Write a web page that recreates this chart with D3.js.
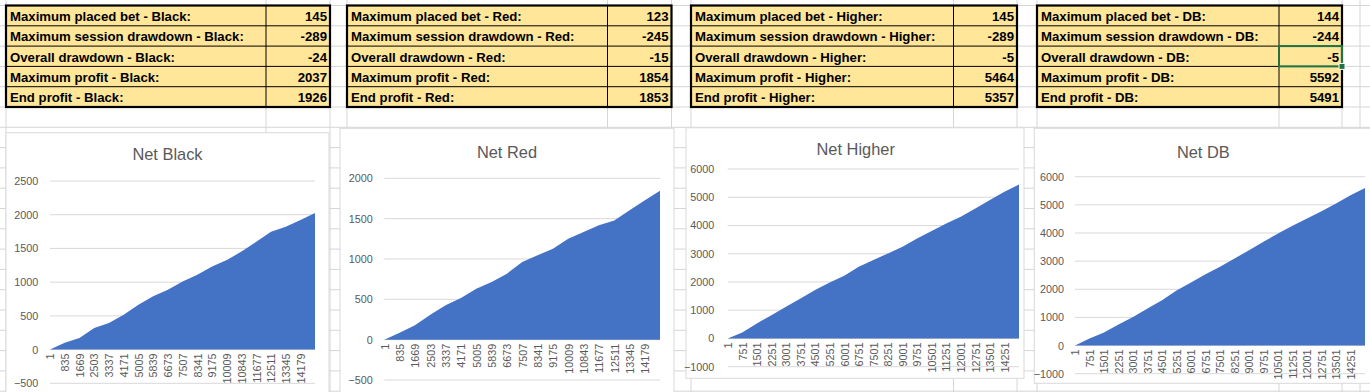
<!DOCTYPE html>
<html><head><meta charset="utf-8">
<script src="https://cdn.jsdelivr.net/npm/d3@7"></script>
<style>
html,body{margin:0;padding:0;background:#fff;overflow:hidden;}
svg{display:block;}
</style></head>
<body>
<svg id="c" width="1370" height="392"></svg>
<script>
// ---------- DATA ----------
const statNames = ["Maximum placed bet", "Maximum session drawdown", "Overall drawdown", "Maximum profit", "End profit"];
const seriesNames = ["Black", "Red", "Higher", "DB"];
const statsBlack = [145, -289, -24, 2037, 1926];
const statsRed = [123, -245, -15, 1854, 1853];
const statsHigher = [145, -289, -5, 5464, 5357];
const statsDB = [144, -244, -5, 5592, 5491];

// x positions (bet index) at which the net values were read
const idxBlackRed = [1, 835, 1669, 2503, 3337, 4171, 5005, 5839, 6673, 7507, 8341, 9175, 10009, 10843, 11677, 12511, 13345, 14179, 15000];
const netBlack = [0, 100, 170, 320, 395, 517, 665, 790, 887, 1010, 1108, 1232, 1330, 1453, 1600, 1749, 1823, 1921, 2025];
const netRed = [0, 87, 178, 310, 426, 517, 632, 715, 818, 963, 1045, 1128, 1252, 1335, 1417, 1478, 1603, 1727, 1845];
const idxHigherDB = [1, 751, 1501, 2251, 3001, 3751, 4501, 5251, 6001, 6751, 7501, 8251, 9001, 9751, 10501, 11251, 12001, 12751, 13501, 14251, 15000];
const netHigher = [0, 212, 531, 826, 1121, 1417, 1712, 1983, 2220, 2538, 2775, 3011, 3247, 3542, 3802, 4073, 4309, 4604, 4900, 5195, 5454];
const netDB = [0, 250, 462, 746, 1019, 1315, 1611, 1955, 2239, 2535, 2796, 3092, 3389, 3685, 3981, 4254, 4514, 4775, 5047, 5344, 5600];

// axis tick labels
const xTicksBlackRed = [1, 835, 1669, 2503, 3337, 4171, 5005, 5839, 6673, 7507, 8341, 9175, 10009, 10843, 11677, 12511, 13345, 14179];
const xTicksHigherDB = [1, 751, 1501, 2251, 3001, 3751, 4501, 5251, 6001, 6751, 7501, 8251, 9001, 9751, 10501, 11251, 12001, 12751, 13501, 14251];
const yTicksBlack = [-500, 0, 500, 1000, 1500, 2000, 2500];
const yTicksRed = [-500, 0, 500, 1000, 1500, 2000];
const yTicksHigherDB = [-1000, 0, 1000, 2000, 3000, 4000, 5000, 6000];
const N = 15000;

// ---------- LAYOUT ----------
const svg = d3.select("#c");
const FONT = "'Liberation Sans', Arial, sans-serif";
const gridColor = "#d6d6d6";

// spreadsheet gridlines
const colXs = [6, 266, 330, 347, 607.5, 671.5, 691, 953.5, 1017, 1037, 1279, 1342, 1360];
const rowYs = d3.range(0, 20).map(k => 5.5 + k * 20.3);
const grid = svg.append("g");
grid.selectAll("line.v").data(colXs).join("line")
  .attr("x1", d => d).attr("x2", d => d).attr("y1", 0).attr("y2", 392)
  .attr("stroke", gridColor).attr("stroke-width", 1);
grid.selectAll("line.h").data(rowYs).join("line")
  .attr("x1", 0).attr("x2", 1370).attr("y1", d => d).attr("y2", d => d)
  .attr("stroke", gridColor).attr("stroke-width", 1);

// tables
const tables = [
  {name: seriesNames[0], vals: statsBlack, x0: 6, x1: 266, x2: 330},
  {name: seriesNames[1], vals: statsRed, x0: 347, x1: 607.5, x2: 671.5},
  {name: seriesNames[2], vals: statsHigher, x0: 691, x1: 953.5, x2: 1017},
  {name: seriesNames[3], vals: statsDB, x0: 1037, x1: 1279, x2: 1342}
];
const rowTop = 5.5, rowH = 20.3;
tables.forEach(t => {
  const g = svg.append("g");
  g.append("rect").attr("x", t.x0).attr("y", rowTop).attr("width", t.x2 - t.x0).attr("height", rowH * 5)
    .attr("fill", "#ffe699");
  for (let i = 1; i < 5; i++) {
    g.append("line").attr("x1", t.x0).attr("x2", t.x2).attr("y1", rowTop + i * rowH).attr("y2", rowTop + i * rowH)
      .attr("stroke", "#000").attr("stroke-width", 1);
  }
  g.append("line").attr("x1", t.x1).attr("x2", t.x1).attr("y1", rowTop).attr("y2", rowTop + 5 * rowH)
    .attr("stroke", "#000").attr("stroke-width", 1);
  g.append("rect").attr("x", t.x0).attr("y", rowTop).attr("width", t.x2 - t.x0).attr("height", rowH * 5)
    .attr("fill", "none").attr("stroke", "#000").attr("stroke-width", 2.2);
  statNames.forEach((s, i) => {
    const by = rowTop + i * rowH + 15.5;
    g.append("text").attr("x", t.x0 + 4).attr("y", by).text(`${s} - ${t.name}:`)
      .attr("font-family", FONT).attr("font-weight", "bold").attr("font-size", "13.2px").attr("fill", "#000");
    g.append("text").attr("x", t.x2 - 3).attr("y", by).attr("text-anchor", "end").text(t.vals[i])
      .attr("font-family", FONT).attr("font-weight", "bold").attr("font-size", "13.2px").attr("fill", "#000");
  });
});
// selected cell (Overall drawdown - DB value)
{
  const t = tables[3];
  const y0 = rowTop + 2 * rowH, y1 = rowTop + 3 * rowH;
  svg.append("rect").attr("x", t.x1).attr("y", y0).attr("width", t.x2 - t.x1).attr("height", y1 - y0)
    .attr("fill", "none").attr("stroke", "#217346").attr("stroke-width", 2);
  svg.append("rect").attr("x", t.x2 - 3).attr("y", y1 - 3).attr("width", 6).attr("height", 6)
    .attr("fill", "#217346").attr("stroke", "#fff").attr("stroke-width", 1);
}

// charts
const charts = [
  {title: "Net Black", xs: idxBlackRed, ys: netBlack, xt: xTicksBlackRed, yt: yTicksBlack,
   box: [6, 132.7, 329, 400], tx: 167.5, ty: 160.2, px: [50, 315], py: [383.3, 181], lr: 38.3},
  {title: "Net Red", xs: idxBlackRed, ys: netRed, xt: xTicksBlackRed, yt: yTicksRed,
   box: [340, 128.3, 674, 400], tx: 507, ty: 158.2, px: [384.3, 660], py: [380, 178.3], lr: 372.7},
  {title: "Net Higher", xs: idxHigherDB, ys: netHigher, xt: xTicksHigherDB, yt: yTicksHigherDB,
   box: [686, 127.8, 1024, 378.3], tx: 855.7, ty: 155.2, px: [727.7, 1019], py: [366.7, 169], lr: 714.3},
  {title: "Net DB", xs: idxHigherDB, ys: netDB, xt: xTicksHigherDB, yt: yTicksHigherDB,
   box: [1034.3, 128.3, 1375, 383.3], tx: 1203.3, ty: 157.6, px: [1075, 1365], py: [373.7, 176.7], lr: 1064}
];

charts.forEach(c => {
  const g = svg.append("g");
  g.append("rect").attr("x", c.box[0]).attr("y", c.box[1]).attr("width", c.box[2] - c.box[0]).attr("height", c.box[3] - c.box[1])
    .attr("fill", "#fff").attr("stroke", "#d9d9d9").attr("stroke-width", 1);
  g.append("text").attr("x", c.tx).attr("y", c.ty).attr("text-anchor", "middle").text(c.title)
    .attr("font-family", FONT).attr("font-size", "16.4px").attr("fill", "#595959");

  const x = d3.scaleLinear().domain([1, N]).range(c.px);
  const y = d3.scaleLinear().domain([c.yt[0], c.yt[c.yt.length - 1]]).range(c.py);

  g.selectAll("line.gl").data(c.yt).join("line")
    .attr("x1", c.px[0]).attr("x2", c.px[1]).attr("y1", d => y(d)).attr("y2", d => y(d))
    .attr("stroke", "#d9d9d9").attr("stroke-width", 1);

  const pts = c.xs.map((v, i) => [v, c.ys[i]]);
  const area = d3.area().x(d => x(d[0])).y0(y(0)).y1(d => y(d[1]));
  g.append("path").datum(pts).attr("d", area).attr("fill", "#4472c4");

  const ya = d3.axisLeft(y).tickValues(c.yt).tickFormat(d3.format("d")).tickSize(0).tickPadding(0);
  const yg = g.append("g").attr("transform", `translate(${c.lr},0)`).call(ya);
  yg.select(".domain").remove();
  yg.selectAll("text").attr("font-family", FONT).attr("font-size", "10.8px").attr("fill", "#595959");

  const xa = d3.axisBottom(x).tickValues(c.xt).tickFormat(d3.format("d")).tickSize(0).tickPadding(0);
  const xg = g.append("g").attr("transform", `translate(0,${y(0)})`).call(xa);
  xg.select(".domain").remove();
  xg.selectAll("text")
    .attr("font-family", FONT).attr("font-size", "10.8px").attr("fill", "#595959")
    .attr("text-anchor", "end")
    .attr("transform", "rotate(-90)")
    .attr("x", -4).attr("y", 0).attr("dy", "0.35em");
});
</script>
</body></html>
